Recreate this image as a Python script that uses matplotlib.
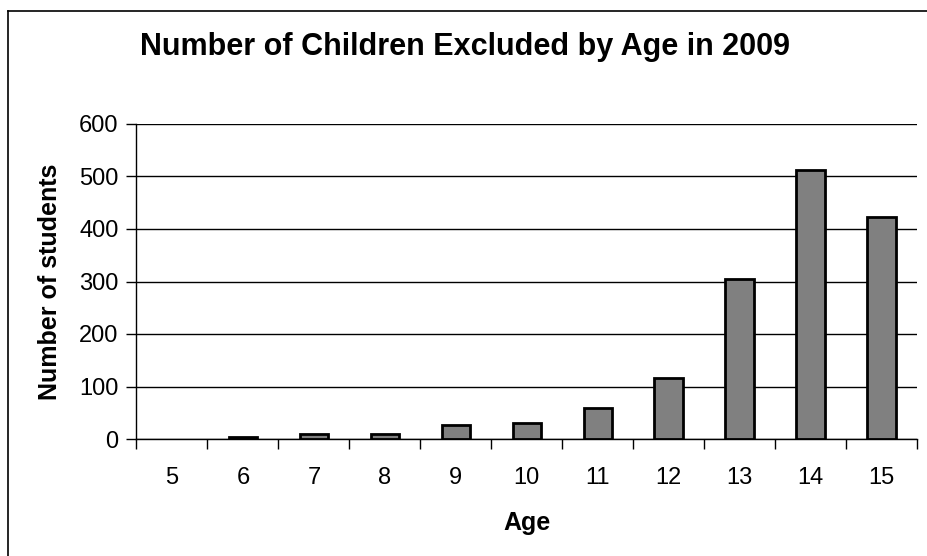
import matplotlib.pyplot as plt
from matplotlib.lines import Line2D

# chart data
ages = ["5", "6", "7", "8", "9", "10", "11", "12", "13", "14", "15"]
students = [0, 4, 10, 10, 27, 30, 59, 117, 305, 512, 422]
y_ticks = [0, 100, 200, 300, 400, 500, 600]

plt.rcParams['font.family'] = ['Liberation Sans', 'DejaVu Sans']

fig = plt.figure(figsize=(9.28, 5.56), dpi=100)
ax = fig.add_axes([136.5 / 928, 1 - 439 / 556, (917 - 136.5) / 928, (439 - 124) / 556])

pos = list(range(len(ages)))
# zero-height bars get no outline, as in the original
edges = ['black' if v > 0 else 'none' for v in students]
ax.bar(pos, students, width=0.4, color='#808080', edgecolor=edges, linewidth=2, zorder=3)

ax.set_xlim(-0.5, len(ages) - 0.5)
ax.set_ylim(0, 600)
ax.set_yticks(y_ticks)
ax.set_yticklabels([str(v) for v in y_ticks], fontsize=17)

# ticks between categories, labels centred under bars
ax.set_xticks([p - 0.5 for p in pos] + [len(ages) - 0.5])
ax.set_xticklabels([])
ax.set_xticks(pos, minor=True)
ax.set_xticklabels(ages, minor=True, fontsize=17)
ax.tick_params(axis='x', which='major', length=7, width=1, direction='out')
ax.tick_params(axis='x', which='minor', length=0, pad=20)
ax.tick_params(axis='y', length=7, width=1, direction='out', pad=6)

ax.grid(axis='y', color='black', linewidth=1, zorder=0)
for s in ['top', 'right']:
    ax.spines[s].set_visible(False)
for s in ['left', 'bottom']:
    ax.spines[s].set_linewidth(1)

ax.set_xlabel('Age', fontsize=18, fontweight='bold', labelpad=16)
ax.set_ylabel('Number of students', fontsize=18, fontweight='bold', labelpad=12)
fig.text(465 / 928, 1 - 47 / 556, 'Number of Children Excluded by Age in 2009',
         ha='center', va='center', fontsize=22, fontweight='bold')

# outer chart frame (right and bottom fall outside the image)
fig.add_artist(Line2D([8 / 928, 8 / 928], [0, 1 - 11 / 556], color='black', linewidth=1.2))
fig.add_artist(Line2D([8 / 928, 1], [1 - 11 / 556, 1 - 11 / 556], color='black', linewidth=1.2))

fig.savefig('out.png', dpi=100, facecolor='white')
